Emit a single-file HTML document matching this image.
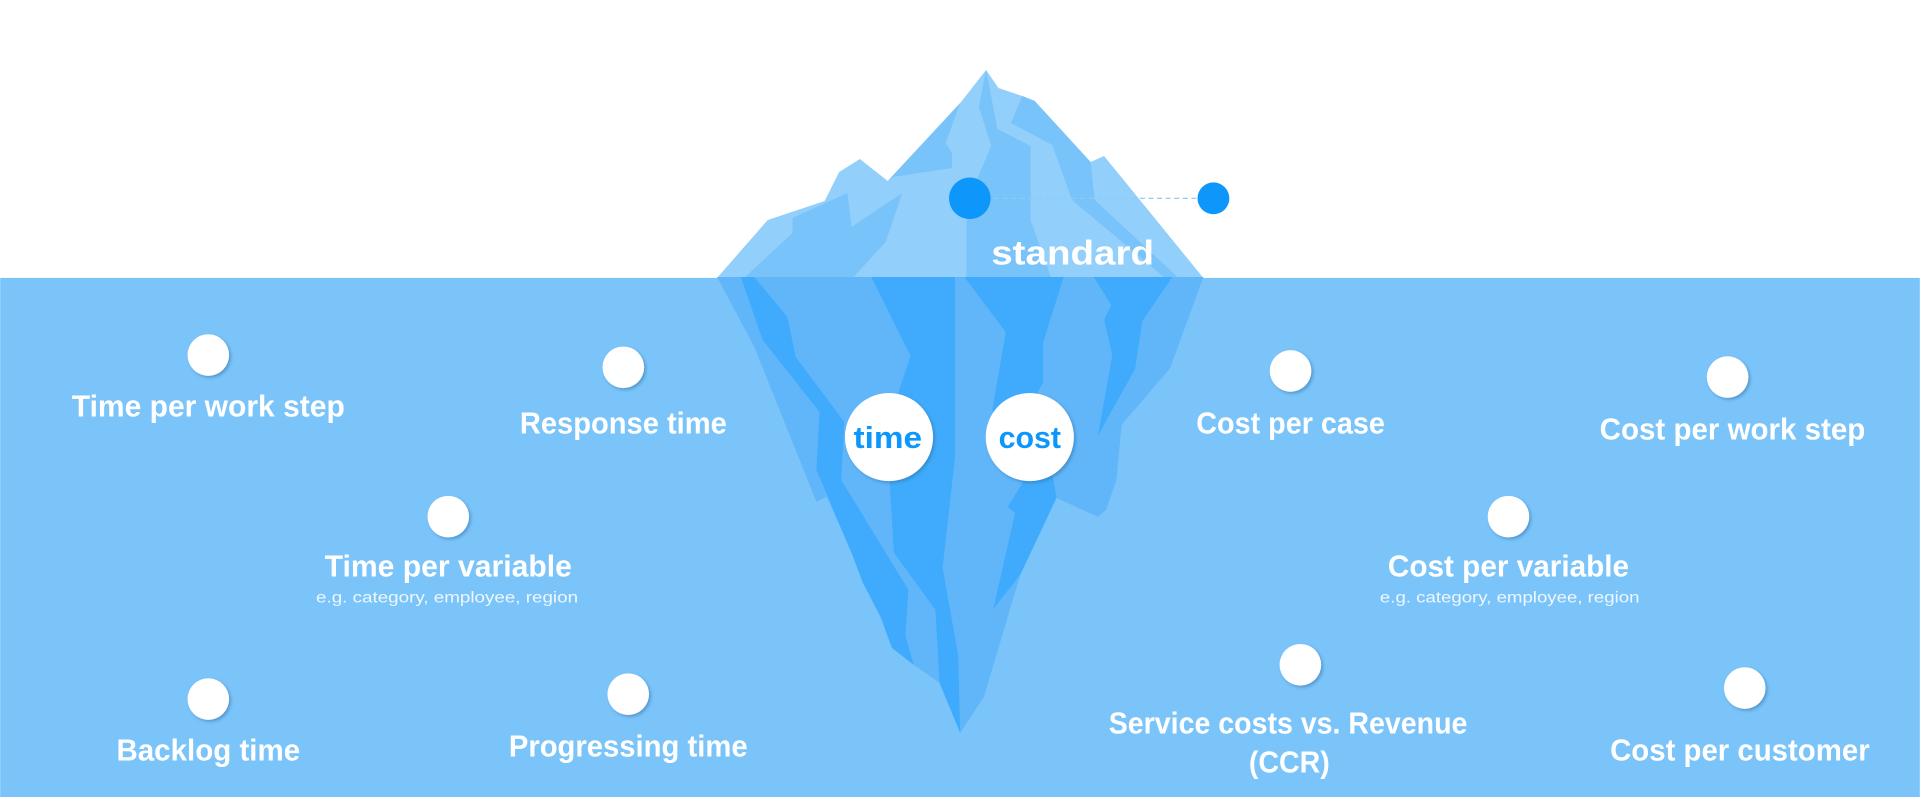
<!DOCTYPE html>
<html><head><meta charset="utf-8"><style>
html,body{margin:0;padding:0;background:#fff;}
svg{display:block;}
text{font-family:"Liberation Sans",sans-serif;}
</style></head><body>
<svg width="1920" height="797" viewBox="0 0 1568 651" xmlns="http://www.w3.org/2000/svg">
<defs>
<filter id="sh" x="-30%" y="-30%" width="160%" height="160%"><feDropShadow dx="1.5" dy="1.5" stdDeviation="1.2" flood-color="#2a6aa0" flood-opacity="0.5"/></filter>
</defs>
<rect x="0" y="0" width="1568" height="651" fill="#fff"/>
<rect x="0" y="227" width="1568" height="424" fill="#7BC4FA"/>
<g transform="translate(586,0) scale(1.035,1) translate(-586,0)">
<g transform="scale(0.81667)">
<polygon fill="#93CFFB" points="717,278 766,220 821,201 835,172 855,159 882,181 952,103 977,70 989,88 1012,96 1024,101 1078,162 1091,156 1187,278"/>
<polygon fill="#78C3FA" points="743,278 790,233 790,218 843,193 847,227 896,193 880,242 848,278"/>
<polygon fill="#78C3FA" points="882,181 952,103 938,143 944,153 944,168 887,177"/>
<polygon fill="#78C3FA" points="977,70 970,107 982,146 968,180 958,222 958,278 1040,278 1020,220 1020,146 988,129"/>
<polygon fill="#78C3FA" points="1012,96 1024,101 1078,162 1082,200 1163,278 1150,278 1060,200 1041,145 1001,123"/>
<polygon fill="#61B6FA" points="717,277 753,347 813,502 823,497 847,553 858,583 875,617 886,648 907,665 932,683 952,733 975,697 1010,575 1045,498 1085,517 1093,510 1103,480 1108,425 1155,368 1187,277"/>
<polygon fill="#40ABFC" points="740,277 753,277 785,317 793,357 840,422 837,480 902,590 899,635 907,665 886,648 875,617 858,583 847,553 813,470 816,412 761,340"/>
<polygon fill="#40ABFC" points="866,277 947,277 947,457 935,568 950,655 952,733 932,683 928,610 888,553 883,470 893,390 904,356"/>
<polygon fill="#40ABFC" points="956,277 1052,277 1032,343 1032,383 1027,392 1045,498 1010,575 984,609 1005,513 998,507 1012,483 983,410 996,332"/>
<polygon fill="#40ABFC" points="1081,277 1157,277 1128,321 1121,369 1085,436 1099,355 1091,320 1098,305"/>
</g>
</g>
<line x1="805" y1="162" x2="985" y2="162" stroke="#8fcaf7" stroke-width="1" stroke-dasharray="4,3"/>
<circle cx="792" cy="162" r="17" fill="#0E97FB"/>
<circle cx="991" cy="162" r="13" fill="#0E97FB"/>
<text x="876" y="216" font-size="28" font-weight="bold" fill="#fff" text-anchor="middle" textLength="133" lengthAdjust="spacingAndGlyphs">standard</text>
<circle cx="726" cy="357" r="36" fill="#fff" filter="url(#sh)"/>
<circle cx="841" cy="357" r="36" fill="#fff" filter="url(#sh)"/>
<text x="725" y="366" font-size="25" font-weight="bold" fill="#0E97FB" text-anchor="middle" textLength="56" lengthAdjust="spacingAndGlyphs">time</text>
<text x="841" y="366" font-size="25" font-weight="bold" fill="#0E97FB" text-anchor="middle" textLength="51" lengthAdjust="spacingAndGlyphs">cost</text>
<g fill="#fff" filter="url(#sh)">
<circle cx="170" cy="290" r="17"/>
<circle cx="509" cy="300" r="17"/>
<circle cx="366" cy="422" r="17"/>
<circle cx="170" cy="571" r="17"/>
<circle cx="513" cy="567" r="17"/>
<circle cx="1054" cy="303" r="17"/>
<circle cx="1411" cy="308" r="17"/>
<circle cx="1232" cy="422" r="17"/>
<circle cx="1062" cy="543" r="17"/>
<circle cx="1425" cy="562" r="17"/>
</g>
<g fill="#fff" font-weight="bold" font-size="25" text-anchor="middle">
<text x="170" y="340" textLength="223" lengthAdjust="spacingAndGlyphs">Time per work step</text>
<text x="509" y="354" textLength="169" lengthAdjust="spacingAndGlyphs">Response time</text>
<text x="366" y="471" textLength="202" lengthAdjust="spacingAndGlyphs">Time per variable</text>
<text x="170" y="621" textLength="150" lengthAdjust="spacingAndGlyphs">Backlog time</text>
<text x="513" y="618" textLength="195" lengthAdjust="spacingAndGlyphs">Progressing time</text>
<text x="1054" y="354" textLength="154" lengthAdjust="spacingAndGlyphs">Cost per case</text>
<text x="1415" y="359" textLength="217" lengthAdjust="spacingAndGlyphs">Cost per work step</text>
<text x="1232" y="471" textLength="197" lengthAdjust="spacingAndGlyphs">Cost per variable</text>
<text x="1052" y="599" textLength="293" lengthAdjust="spacingAndGlyphs">Service costs vs. Revenue</text>
<text x="1053" y="631" textLength="66" lengthAdjust="spacingAndGlyphs">(CCR)</text>
<text x="1421" y="621" textLength="212" lengthAdjust="spacingAndGlyphs">Cost per customer</text>
</g>
<g fill="#eef7ff" font-size="13" text-anchor="middle">
<text x="365" y="492" textLength="214" lengthAdjust="spacingAndGlyphs">e.g. category, employee, region</text>
<text x="1233" y="492" textLength="212" lengthAdjust="spacingAndGlyphs">e.g. category, employee, region</text>
</g>
</svg>
</body></html>
